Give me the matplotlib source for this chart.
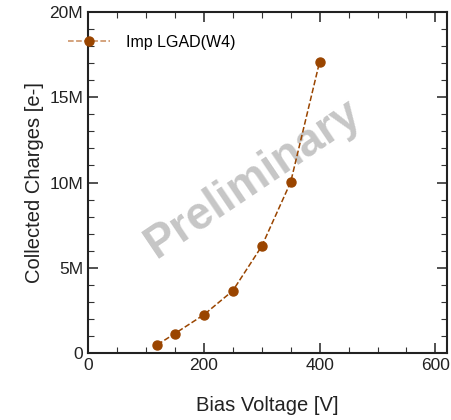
import matplotlib
matplotlib.use("Agg")
import matplotlib.pyplot as plt
from matplotlib.ticker import MultipleLocator, FuncFormatter

plt.rcParams['font.family'] = ['Liberation Sans', 'DejaVu Sans']

# data
bias_v = [120, 150, 200, 250, 300, 350, 400]
charges = [0.49e6, 1.14e6, 2.24e6, 3.65e6, 6.26e6, 10.02e6, 17.08e6]
series_label = "Imp LGAD(W4)"

col = '#9a4500'

fig = plt.figure(figsize=(4.51, 4.2), dpi=100)
ax = fig.add_axes([88 / 451, 1 - 353 / 420, 359 / 451, 341 / 420])

ax.plot(bias_v, charges, color=col, ls='--', lw=1.1, marker='o', ms=6.5,
        label=series_label, zorder=3)

ax.set_xlim(0, 620)
ax.set_ylim(0, 20e6)
ax.xaxis.set_major_locator(MultipleLocator(200))
ax.xaxis.set_minor_locator(MultipleLocator(50))
ax.yaxis.set_major_locator(MultipleLocator(5e6))
ax.yaxis.set_minor_locator(MultipleLocator(1e6))
ax.yaxis.set_major_formatter(FuncFormatter(lambda v, p: '0' if v == 0 else '%dM' % (v / 1e6)))
ax.tick_params(which='both', direction='in', top=True, right=True, labelsize=12.5,
               color='#333333', labelcolor='#222222')
ax.tick_params(which='major', length=7, width=1.2)
ax.tick_params(which='minor', length=4, width=0.8)
for s in ax.spines.values():
    s.set_linewidth(1.5)
    s.set_color('#222222')

ax.set_xlabel("Bias Voltage [V]", fontsize=14.5, labelpad=17, color='#222222')
ax.set_ylabel("Collected Charges [e-]", fontsize=14.5, labelpad=4, color='#222222')

leg = ax.legend(loc='upper left', bbox_to_anchor=(-0.095, 0.975), frameon=False,
                fontsize=11.5, handlelength=2.6, handletextpad=1.0)
leg.get_lines()[0].set_color('#c98a5a')
leg.get_lines()[0].set_markerfacecolor(col)
leg.get_lines()[0].set_markeredgecolor(col)

# watermark
ax.text(0.46, 0.51, "Preliminary", transform=ax.transAxes, rotation=34,
        fontsize=33, fontweight='bold', color='#b8b8b8', alpha=0.8,
        ha='center', va='center', zorder=1)

fig.savefig("out.png", dpi=100)
